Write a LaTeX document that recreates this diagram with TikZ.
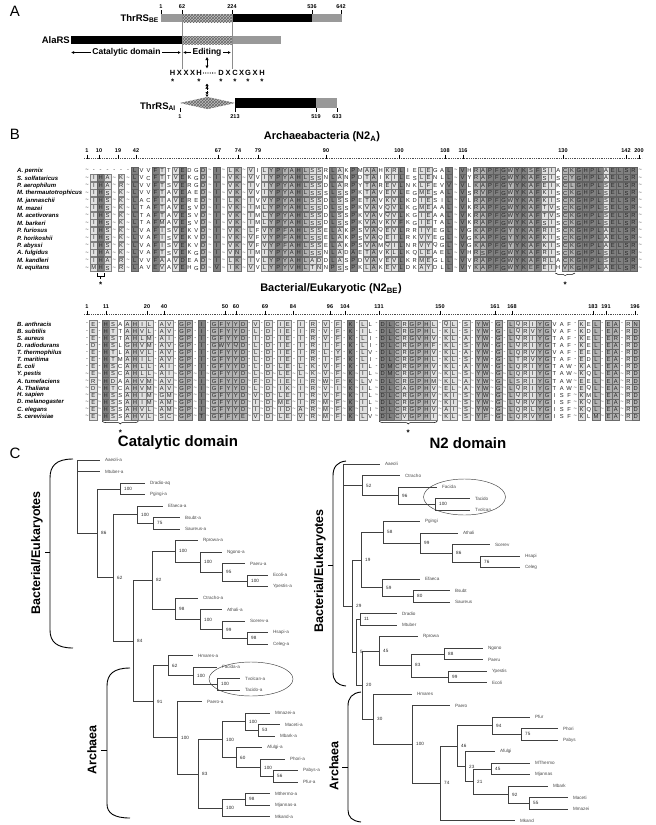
\documentclass[tikz,border=0pt]{standalone}
\usepackage{fontspec}
\setmainfont{Liberation Sans}
\usetikzlibrary{arrows.meta,patterns,decorations.pathreplacing}
\makeatletter
\newcount\sq@n
\newdimen\sq@x
\def\defblock#1#2#3#4#5{%
  \def\sq@blk{#1}\def\sq@r{#3}\def\sq@g{#4}%
  \sq@n=0 \sq@x=#2pt\relax
  \sq@patloop#5\relax}
\def\sq@patloop#1{%
  \ifx#1\relax\else
    \advance\sq@n by 1\relax
    \if#1.\edef\sq@w{\sq@g}\else\edef\sq@w{\sq@r}\fi
    \advance\sq@x by 0.5\dimexpr\sq@w pt\relax
    \expandafter\xdef\csname sq@cx@\sq@blk @\the\sq@n\endcsname{\strip@pt\sq@x}%
    \expandafter\xdef\csname sq@cw@\sq@blk @\the\sq@n\endcsname{\sq@w}%
    \expandafter\xdef\csname sq@sh@\sq@blk @\the\sq@n\endcsname{#1}%
    \advance\sq@x by 0.5\dimexpr\sq@w pt\relax
    \expandafter\sq@patloop
  \fi}
\def\colx#1#2{\csname sq@cx@#1@#2\endcsname}
\def\seqrow#1#2#3{%
  \def\sq@blk{#1}\def\sq@y{#2}\sq@n=0\relax
  \sq@rowloop#3\relax}
\def\sq@rowloop#1{%
  \ifx#1\relax\else
    \advance\sq@n by 1\relax
    \sq@cell#1%
    \expandafter\sq@rowloop
  \fi}
\def\sq@cell#1{%
  \edef\sq@cx{\csname sq@cx@\sq@blk @\the\sq@n\endcsname}%
  \edef\sq@cw{\csname sq@cw@\sq@blk @\the\sq@n\endcsname}%
  \edef\sq@sh{\csname sq@sh@\sq@blk @\the\sq@n\endcsname}%
  \if\sq@sh.\def\sq@sh{w}\fi
  \if#1.\sq@gap{\textasciitilde}\else
  \if#1-\sq@gap{-}\else
  \sq@res{#1}\fi\fi}
\def\sq@gap#1{\node[seqgap] at (\sq@cx,\sq@y) {#1};}
\def\sq@res#1{\edef\sq@tmp{\noexpand\node[seqch,sh\sq@sh,minimum width=\sq@cw pt] at (\sq@cx,\sq@y) {#1};}\sq@tmp}
\makeatother

\begin{document}
\begin{tikzpicture}[x=1pt,y=-1pt,
  seqch/.style={font=\fontsize{5.8}{6}\selectfont, inner sep=0pt, minimum height=7.1pt, text=black!85, line width=0.3pt},
  shw/.style={},
  shl/.style={fill=black!12, draw=black!50},
  shm/.style={fill=black!30, draw=black!58},
  shd/.style={fill=black!50, draw=black!62},
  seqgap/.style={font=\fontsize{5.8}{6}\selectfont, inner sep=0pt, text=black!75},
  spn/.style={font=\bfseries\itshape\fontsize{6}{7}\selectfont, anchor=west, inner sep=0pt},
  rnum/.style={font=\bfseries\fontsize{5.5}{6}\selectfont, inner sep=0pt},
  panel/.style={font=\fontsize{15}{15}\selectfont, inner sep=0pt},
  lab/.style={font=\bfseries\fontsize{9.5}{10}\selectfont, inner sep=0pt},
  anum/.style={font=\bfseries\fontsize{5.5}{6}\selectfont, inner sep=0pt},
  atext/.style={font=\bfseries\fontsize{8.5}{9}\selectfont, inner sep=1.5pt},
  motif/.style={font=\bfseries\fontsize{7.5}{8}\selectfont, inner sep=0pt},
  ast/.style={font=\bfseries\fontsize{8}{8}\selectfont, inner sep=0pt},
  btitle/.style={font=\bfseries\fontsize{11}{12}\selectfont, inner sep=0pt},
  ctitle/.style={font=\bfseries\fontsize{15}{16}\selectfont, inner sep=0pt},
  brk/.style={font=\bfseries\fontsize{12.5}{13}\selectfont, inner sep=0pt, rotate=90},
  br/.style={draw=black!75, line width=0.45pt},
  lf/.style={anchor=west, font=\fontsize{4.6}{5}\selectfont, text=black!70, inner xsep=5pt, inner ysep=0pt, outer sep=0pt},
  bs/.style={anchor=west, font=\fontsize{4.6}{5}\selectfont, text=black!85, inner sep=0pt},
  hatch/.style={fill=black!25, postaction={pattern=crosshatch, pattern color=black!60}},
  tip/.style={-{Latex[length=3pt,width=3pt]}, line width=0.7pt}
]
\fill[white] (0,0) rectangle (656,825);
\useasboundingbox (0,0) rectangle (656,825);

%%%%%%%%%%%%%%%% PANEL A
\node[panel] (pA) at (15,11) {A};
\node[lab, anchor=east] (thrBE) at (159,18.5) {ThrRS\textsubscript{BE}};
\fill[black!40] (161,14) rectangle (182,22);
\path[hatch] (182,14) rectangle (232,22);
\fill[black] (232,14) rectangle (312,22);
\fill[black!40] (312,14) rectangle (342,22);
\foreach \x/\t [count=\i] in {161/1,182/62,232/224,312/536,341/642}{
  \draw[line width=0.5pt] (\x,10) -- (\x,14);
  \node[anum] (nbe\i) at (\x,6.5) {\t};}
\node[lab, anchor=east] (ala) at (70,40.5) {AlaRS};
\fill[black] (71,36) rectangle (182,44);
\path[hatch] (182,36) rectangle (232,44);
\fill[black!40] (232,36) rectangle (281,44);
\draw[black!45, line width=0.5pt] (182,14) -- (182,69);
\draw[black!45, line width=0.5pt] (232,14) -- (232,69);
\node[atext] (catTxt) at (126.5,52.5) {Catalytic domain};
\node[atext] (edTxt) at (207,52.5) {Editing};
\coordinate (catL) at (71,52.5);
\coordinate (catR) at (181,52.5);
\coordinate (edL) at (183,52.5);
\coordinate (edR) at (231,52.5);
\draw[tip] (catTxt.west) -- (catL);
\draw[tip] (catTxt.east) -- (catR);
\draw[tip] (edTxt.west) -- (edL);
\draw[tip] (edTxt.east) -- (edR);
\foreach \x/\c [count=\i] in {172.7/H,179.3/X,186/X,192.6/X,199/H,221/D,228/X,235/C,241.5/X,248/G,255/X,262/H}
  \node[motif] (mot\i) at (\x,73) {\c};
\draw[line width=1.3pt, dash pattern=on 0pt off 2.3pt, line cap=round] ([xshift=1.5pt]mot5.east) -- ([xshift=-1pt]mot6.west);
\foreach \i in {1,5,6,8,10,12}
  \node[ast] (as\i) at ([yshift=-8.5pt]mot\i.center) {*};
\coordinate (dA1) at (207,57);
\coordinate (dA2) at (207,68.5);
\draw[{Latex[length=3pt,width=3.4pt]}-{Latex[length=3pt,width=3.4pt]}, line width=0.8pt] (dA1) -- (dA2);
\coordinate (dB1) at (207,83.5);
\coordinate (dB2) at (207,97);
\draw[{Latex[length=2.5pt,width=3.4pt] Latex[length=2.5pt,width=3.4pt]}-{Latex[length=2.5pt,width=3.4pt] Latex[length=2.5pt,width=3.4pt]}, line width=0.8pt, densely dotted] (dB1) -- (dB2);
\node[lab, anchor=east] (thrAI) at (176,106.5) {ThrRS\textsubscript{AI}};
\path[hatch] (180,103) -- (207.5,97) -- (235,103) -- (207.5,109) -- cycle;
\fill[black] (235,98) rectangle (316,108);
\fill[black!40] (316,98) rectangle (337,108);
\foreach \x/\t [count=\i] in {180/1,235/213,316/519,337/633}{
  \draw[line width=0.5pt] (\x,108) -- (\x,112);
  \node[anum] (nai\i) at (\x,117) {\t};}

%%%%%%%%%%%%%%%% PANEL B
\node[panel] (pB) at (15,134) {B};
\node[btitle] (tArch) at (322,137) {Archaeabacteria (N2\textsubscript{A})};
\draw[black!70, line width=0.6pt, dash pattern=on 0.6pt off 1.2pt] (84,158) -- (642,158);
\foreach \x/\t [count=\i] in {87/1,99/10,118/19,136/42,218/67,238/74,258/79,326/90,399/100,445/108,463/116,563/130,626/142,639/200}{
  \draw[line width=0.7pt] (\x,154.5) -- (\x,158.5);
  \node[rnum] (ra\i) at (\x,150.5) {\t};}
\defblock{A}{83.585}{6.83}{6.83}{.ldl.l.dwwdlwldwwm.d.lm.lwlmdmmdmllwdlwdwlmwlldwwllwwd.dwmmdddmddmdllwmmddddldddd.}
\foreach \t [count=\i from 0] in {A. pernix,S. solfataricus,P. aerophilum,M. thermautotrophicus,M. jannaschii,M. mazei,M. acetivorans,M. barkeri,P. furiosus,P. horikoshii,P. abyssi,A. fulgidus,M. kandleri,N. equitans}
  \node[spn] (sa\i) at (17,170.5+7.5*\i) {\t};
\seqrow{A}{170.5}{.------LVVFTTVEDGD.I.LK.VILYPYAHLSSRLAKPMAAHKRLIELEGAL.VHRAPFGWYKSFSIACKGHPLAELSR.}
\seqrow{A}{178}{.IHA.K.LVCFTTVEKGD.I.VK.VVIYPYAHLSSNLANPDTAIKILESLENLL.VYRAPFGWYKAFSISCYGHPLAELSR.}
\seqrow{A}{185.5}{.IHA.R.LVVFTSVERGD.I.VK.IVIYPYAHLSSDLARPYTAREVLNKLFEVV.VLKAPFGYYKAFEIKCLGHPLSELSR.}
\seqrow{A}{193}{.IHS.K.LVVFTAVEAED.I.VK.VVIYPYAHLSSSLSSPKTAVEVLEGMESAL.VSRVPFGWYKAFKISCKGHPLSELSR.}
\seqrow{A}{200.5}{.IHS.K.LACFIAVERED.I.LK.IVVYPYAHLSSDLSSPETAVKVLKDIESIL.VLRAPFGWYKAFKISCKGHPLSELSR.}
\seqrow{A}{208}{.IHS.K.LTAFTAVESVD.I.VK.IMLYPYAHLSSDLSSPKVAVQVLKGMEAAL.VKRAPFGWYKAFTVSCKGHPLSELSR.}
\seqrow{A}{215.5}{.IHS.K.LTAFTAVESVD.I.VK.IMLYPYAHLSSDLSSPKVAVQVLKGIEAAL.VKRAPFGWYKAFTVSCKGHPLSELSR.}
\seqrow{A}{223}{.IHS.K.LTAFMAVESVD.I.VK.IMLYPYAHLSSDLSSPKVAVKVFKGIETAL.VKRAPFGWYKAFSISCKGHPLSELSR.}
\seqrow{A}{230.5}{.IHS.K.LVAFISVEKVD.I.VK.LFVYPFAHLSSELAKPSVAQEVLRRIYEGL.VGKAPFGYYKAFRISCKGHPLAELSR.}
\seqrow{A}{238}{.IHS.K.LVAFISVEKVD.I.VK.VFVYPFAHLSSELAKPSVAQEILRKVYEGL.VGKAPFGYYKAFKISCKGHPLAELSR.}
\seqrow{A}{245.5}{.IHS.K.LVAFISVEKVD.I.VK.VFVYPFAHLSSELAKPSVAMQILNRVYQGL.VGKAPFGYYKAFKISCKGHPLAELSR.}
\seqrow{A}{253}{.IHA.K.LVAFTSVEKGD.I.VN.IMIYPYAHLSSNLADAETAVKLLKQLEAEL.VHRSPFGWYKAFRISCKGHPLSELSR.}
\seqrow{A}{260.5}{.IHA.R.LVVFAAVDEAD.I.LK.IVLYPYAHLADDLASPDVAVEVLKRMEGLL.VVRAPFGWYKAFRLACKGHPLSELSR.}
\seqrow{A}{268}{.MHS.R.LAVEVAVEHGD.V.IK.VVLYPYVHLTNNPSSPKLAKEVLDKAYDLL.VYKAPFGWYKEFEIHVKGHPLAELSR.}
% markers under archaea
\draw[line width=0.5pt] (\colx{A}{3}-3.8,272.5) -- (\colx{A}{3}-3.8,276.5) -- (\colx{A}{3}+3.8,276.5) -- (\colx{A}{3}+3.8,272.5);
\draw[line width=0.5pt] (\colx{A}{3},276.5) -- (\colx{A}{3},279);
\node[ast] (astA1) at (\colx{A}{3},284.5) {*};
\draw[decorate, decoration={brace, mirror, amplitude=2.5pt}, line width=0.5pt] (\colx{A}{70}-3,273) -- (\colx{A}{72}+3,273);
\node[ast] (astA2) at (\colx{A}{71},285) {*};

\node[btitle] (tBact) at (331,289) {Bacterial/Eukaryotic (N2\textsubscript{BE})};
\draw[black!70, line width=0.6pt, dash pattern=on 0.6pt off 1.2pt] (84,314) -- (638,314);
\foreach \x/\t [count=\i] in {87/1,106/11,147/20,164/40,225/50,236/60,265/69,293/84,330/96,345/104,379/131,440/150,495/161,512/168,593/183,606/191,635/196}{
  \draw[line width=0.7pt] (\x,310.5) -- (\x,314.5);
  \node[rnum] (rb\i) at (\x,306.5) {\t};}
\defblock{B}{84.375}{7.27}{5.25}{.l.dlwlmll.ll.mm.d.mmmmm.l.l.ll.l.l.l.l.d.lw.ddmlmmml.ll.l.mm.m.mlllmmwww.lwm.mm.lm}
\foreach \t [count=\i from 0] in {B. anthracis,B. subtilis,S. aureus,D. radiodurans,T. thermophilus,T. maritima,E. coli,Y. pestis,A. tumefaciens,A. Thaliana,H. sapien,D. melanogaster,C. elegans,S. cerevisiae}
  \node[spn] (sb\i) at (17,324+7.13*\i) {\t};
\seqrow{B}{324}{-E-HSAAHIL-AV-GP-I-GFYYD-V-D-IE-I-R-V-F-K-LL-DLCRGPHL-QL-S-YW-G-LQRIYGVAF-KEL-EA-RN}
\seqrow{B}{331.13}{-E-HTTAHVL-AV-GP-I-GFYYD-L-D-IE-I-R-V-F-K-IL-DLCRGPHL-KL-S-YW-G-LQRVYGVAF-KDL-EA-RD}
\seqrow{B}{338.26}{-E-HSTAHLM-AI-GP-I-GFYYD-I-D-IE-I-R-V-F-K-LI-DLCRGVHV-KL-A-YW-G-LQRIYGTAF-KEL-ER-RD}
\seqrow{B}{345.39}{-D-HSLGHVM-AV-GP-I-GWYQD-L-D-IE-I-R-I-F-K-LI-DLCRGPHF-KL-S-YW-G-LQRIYGTAF-KEL-EA-RD}
\seqrow{B}{352.52}{-E-HTLAHVL-AV-GP-I-GFYYD-L-D-IE-I-R-L-Y-K-LV-DLCRGPHV-KL-A-YW-G-LQRVYGVAF-EEL-EA-RD}
\seqrow{B}{359.65}{-E-HTMAHIL-AV-GP-I-GFYYD-L-D-IE-I-R-I-F-K-LI-DLCRGPHL-KL-S-YW-G-LTRVYGTAF-EDL-EA-RD}
\seqrow{B}{366.78}{-E-HSCAHLL-AI-GP-I-GFYYD-L-D-LE-L-K-V-F-K-IL-DMCRGPHV-KL-A-YW-G-LQRIYGTAW-KAL-EA-RD}
\seqrow{B}{373.91}{.E.HSCAHLL.AI.GP.I.GFYYD.L.D.LE.L.K.V.F.K.IL.DMCRGPHV.KL.S.YW.G.LQRIYGTAW.KQL.EA.RD}
\seqrow{B}{381.04}{.R.HDAAHVM.AV.GP.I.GFYYD.F.D.IE.I.R.W.F.K.LV.DLCRGPHM.KL.A.YW.G.LSRIYGTAW.EEL.EA.RD}
\seqrow{B}{388.17}{.D.HTCAHVM.AV.GP.I.GFYYD.L.D.IK.I.R.V.I.K.IL.DLCAGPHV.EL.A.YW.G.LQRIYGTAW.EQL.EA.RD}
\seqrow{B}{395.3}{.E.HSSAHIM.GM.GP.I.GFYYD.V.D.LE.I.R.V.F.K.IL.DLCRGPHV.KI.S.YW.G.LQRIYGISF.KML.EA.RD}
\seqrow{B}{402.43}{.E.HSSAHIM.AM.GP.I.GFYYD.I.D.ME.I.R.M.F.K.IL.DLCRGPHV.KI.S.YW.G.LQRVYGISF.KQL.EA.RD}
\seqrow{B}{409.56}{.E.HSSAHVL.AM.GP.I.GFYYD.I.D.ID.A.R.M.F.K.II.DLCRGPHV.AI.S.YW.G.LQRLYGISF.KQL.EA.RD}
\seqrow{B}{416.69}{.E.HSSAHVL.SC.GP.T.GFFYE.V.D.LE.V.R.M.F.K.LV.DLCVGPHI.KL.S.YF.G.LQRVYGISF.KLM.EA.RD}
\draw[decorate, decoration={brace, mirror, amplitude=3pt}, line width=0.5pt] (\colx{B}{4}-3.5,421) -- (\colx{B}{8}+3.5,421);
\node[ast] (astB1) at (\colx{B}{6},432.5) {*};
\draw[decorate, decoration={brace, mirror, amplitude=3pt}, line width=0.5pt] (\colx{B}{46}-3.5,421) -- (\colx{B}{53}+3.5,421);
\node[ast] (astB2) at ({(\colx{B}{46}+\colx{B}{53})/2},432.5) {*};

%%%%%%%%%%%%%%%% PANEL C
\node[panel] (pC) at (15,453) {C};
\node[ctitle] (tCat) at (178,443) {Catalytic domain};
\node[ctitle] (tN2) at (468,443) {N2 domain};

% catalytic tree leaves
\foreach \n/\x/\y/\t in {Aaeoli/100/460/Aaeoli-a, Mtuber/100/471.5/Mtuber-a, Dradio/145/483/Dradio-aq, Pgingi/145/494.5/Pgingi-a, Efaeca/163/506/Efaeca-a, Bsubt/180/517.5/Bsubt-a, Saureus/180/529/Saureus-a, Rprowa/198/540.5/Rprowa-a, Ngono/222/552/Ngono-a, Paeru/245/563.5/Paeru-a, Ecoli/268/575/Ecoli-a, Ypestis/268/586.5/Ypestis-a, Ctracho/198/598/Ctracho-a, Athali/222/609.5/Athali-a, Scerev/245/621/Scerev-a, Hsapi/268/632.5/Hsapi-a, Celeg/268/644/Celeg-a, Hmares/193/655.5/Hmares-a, Facida/217/667/Facida-a, Tvolcan/240/678.5/Tvolcan-a, Tacido/240/690/Tacido-a, Paero/202/701.5/Paero-a, Mmazei/270/713/Mmazei-a, Maceti/280/724.5/Maceti-a, Mbark/275/736/Mbark-a, Afulgi/262/747.5/Afulgi-a, Phori/285/759/Phori-a, Pabys/298/770.5/Pabys-a, Pfur/298/782/Pfur-a, Mthermo/270/793.5/Mthermo-a, Mjannas/270/805/Mjannas-a, Mkand/270/816.5/Mkand-a}
  \node[lf] (c\n) at (\x,\y) {\t};
\foreach \n/\x/\y in {R/77/496.6, 86/97/533.2, 100a/120/488.75, 62/113/577.7, 100b/137/514.6, 75/153/523.25, 84/133/640.8, 82/152/580, 100c/175/551.3, 100d/200/562.1, 95/222/572.1, 100e/247/580.75, 98/175/608.8, 100f/200/619.6, 99/222/629.6, 98b/247/638.25, 91/153/701.6, 62b/168/665.6, 100g/193/675.6, 100h/217/684.25, 100m/177/737.6, 83/198/773.75, 100k/222/739.6, 100i/245/721.6, 53/258/730.25, 60/236/757.6, 100j/260/767.6, 56/273/776.25, 100l/222/807.9, 98c/245/799.25}
  \coordinate (c\n) at (\x,\y);
\foreach \p/\c in {cR/cAaeoli.west, cR/cMtuber.west, cR/c86, c86/c100a, c86/c62, c100a/cDradio.west, c100a/cPgingi.west, c62/c100b, c62/c84, c100b/cEfaeca.west, c100b/c75, c75/cBsubt.west, c75/cSaureus.west, c84/c82, c84/c91, c82/c100c, c82/c98, c100c/cRprowa.west, c100c/c100d, c100d/cNgono.west, c100d/c95, c95/cPaeru.west, c95/c100e, c100e/cEcoli.west, c100e/cYpestis.west, c98/cCtracho.west, c98/c100f, c100f/cAthali.west, c100f/c99, c99/cScerev.west, c99/c98b, c98b/cHsapi.west, c98b/cCeleg.west, c91/c62b, c91/c100m, c62b/cHmares.west, c62b/c100g, c100g/cFacida.west, c100g/c100h, c100h/cTvolcan.west, c100h/cTacido.west, c100m/cPaero.west, c100m/c83, c83/c100k, c83/c100l, c100k/c100i, c100k/c60, c100i/cMmazei.west, c100i/c53, c53/cMaceti.west, c53/cMbark.west, c60/cAfulgi.west, c60/c100j, c100j/cPhori.west, c100j/c56, c56/cPabys.west, c56/cPfur.west, c100l/c98c, c100l/cMkand.west, c98c/cMthermo.west, c98c/cMjannas.west}
  \draw[br] (\p) |- (\c);
\foreach \c/\v in {86/86, 100a/100, 62/62, 100b/100, 75/75, 84/84, 82/82, 100c/100, 100d/100, 95/95, 100e/100, 98/98, 100f/100, 99/99, 98b/98, 91/91, 62b/62, 100g/100, 100h/100, 100m/100, 83/83, 100k/100, 100i/100, 53/53, 60/60, 100j/100, 56/56, 100l/100, 98c/98}
  \node[bs] (cb\c) at ([xshift=4pt]c\c) {\v};
\draw[br] (251,679) ellipse [x radius=42pt, y radius=17pt];
% catalytic brackets
\draw[line width=0.9pt] (73,459) .. controls (56,459) and (50,466) .. (50,478) -- (50,630) .. controls (50,642) and (57,648) .. (73,648);
\draw[line width=0.9pt] (50,552) -- (45,552);
\node[brk] (cBE) at (37,553) {Bacterial/Eukaryotes};
\draw[line width=0.9pt] (130,668) .. controls (114,668) and (107,674) .. (107,686) -- (107,804) .. controls (107,813) and (114,818) .. (130,818);
\draw[line width=0.9pt] (107,750) -- (101,750);
\node[brk] (cAr) at (92,750) {Archaea};

% N2 tree leaves
\foreach \n/\x/\y/\t in {Aaeoli/380/464/Aaeoli, Ctracho/400/475.5/Ctracho, Facida/437/487/Facida, Tacido/470/498.5/Tacido, Tvolcan/470/510/Tvolcan, Pgingi/420/521.5/Pgingi, Athali/458/533/Athali, Scerev/490/544.5/Scerev, Hsapi/520/556/Hsapi, Celeg/520/567.5/Celeg, Efaeca/420/579/Efaeca, Bsubt/450/590.5/Bsubt, Saureus/450/602/Saureus, Dradio/397/613.5/Dradio, Mtuber/397/625/Mtuber, Rprowa/418/636.5/Rprowa, Ngono/483/648/Ngono, Paeru/483/659.5/Paeru, Ypestis/487/671/Ypestis, Ecoli/487/682.5/Ecoli, Hmares/412/694/Hmares, Paero/450/705.5/Paero, Pfur/530/717/Pfur, Phori/558/728.5/Phori, Pabys/558/740/Pabys, Afulgi/495/751.5/Afulgi, MThermo/530/763/MThermo, Mjannas/530/774.5/Mjannas, Mbark/548/786/Mbark, Maceti/568/797.5/Maceti, Mmazei/568/809/Mmazei, Mkand/515/820.5/Mkand}
  \node[lf] (m\n) at (\x,\y) {\t};
\foreach \n/\x/\y in {R/343/535, 52/362/485.6, 96/398/495.6, 100a/435/504.25, 29/352/606, 19/361/560, 58/383/532.3, 99/420/543.1, 86/452/553.1, 76/480/561.75, 59/382/587.6, 80/413/596.25, 5/356/652.1, 11/360/619.25, 20/362/685, 45/379/650.9, 83/411/665.25, 88/444/653.75, 99b/448/676.75, 30/373/719.2, 100/412/744.4, 74/440/783.3, 46/457/746.1, 94/492/725.6, 75/521/734.25, 23/465/766.6, 21/473/781.7, 45b/491/768.75, 92/508/794.6, 55/529/803.25}
  \coordinate (m\n) at (\x,\y);
\foreach \p/\c in {mR/mAaeoli.west, mR/m52, mR/m29, m52/mCtracho.west, m52/m96, m96/mFacida.west, m96/m100a, m100a/mTacido.west, m100a/mTvolcan.west, m29/m19, m29/m5, m19/m58, m19/m59, m58/mPgingi.west, m58/m99, m99/mAthali.west, m99/m86, m86/mScerev.west, m86/m76, m76/mHsapi.west, m76/mCeleg.west, m59/mEfaeca.west, m59/m80, m80/mBsubt.west, m80/mSaureus.west, m5/m11, m5/m20, m11/mDradio.west, m11/mMtuber.west, m20/m45, m20/m30, m45/mRprowa.west, m45/m83, m83/m88, m83/m99b, m88/mNgono.west, m88/mPaeru.west, m99b/mYpestis.west, m99b/mEcoli.west, m30/mHmares.west, m30/m100, m100/mPaero.west, m100/m74, m74/m46, m74/mMkand.west, m46/m94, m46/m23, m94/mPfur.west, m94/m75, m75/mPhori.west, m75/mPabys.west, m23/mAfulgi.west, m23/m21, m21/m45b, m21/m92, m45b/mMThermo.west, m45b/mMjannas.west, m92/mMbark.west, m92/m55, m55/mMaceti.west, m55/mMmazei.west}
  \draw[br] (\p) |- (\c);
\foreach \c/\v in {52/52, 96/96, 100a/100, 29/29, 19/19, 58/58, 99/99, 86/86, 76/76, 59/59, 80/80, 5/5, 11/11, 20/20, 45/45, 83/83, 88/88, 99b/99, 30/30, 100/100, 74/74, 46/46, 94/94, 75/75, 23/23, 21/21, 45b/45, 92/92, 55/55}
  \node[bs] (mb\c) at ([xshift=4pt]m\c) {\v};
\draw[br] (464.5,497) ellipse [x radius=41pt, y radius=18pt];
\draw[line width=0.9pt] (346,461) .. controls (337,462) and (333,467) .. (333,476) -- (333,672) .. controls (333,681) and (337,685) .. (346,686);
\draw[line width=0.9pt] (333,565) -- (328,565);
\node[brk] (mBE) at (320,571) {Bacterial/Eukaryotes};
\draw[line width=0.9pt] (361,692) .. controls (352,693) and (348,698) .. (348,706) -- (348,810) .. controls (348,817) and (352,821) .. (361,822);
\draw[line width=0.9pt] (348,767) -- (342,767);
\node[brk] (mAr) at (334,766) {Archaea};
\end{tikzpicture}
\end{document}
